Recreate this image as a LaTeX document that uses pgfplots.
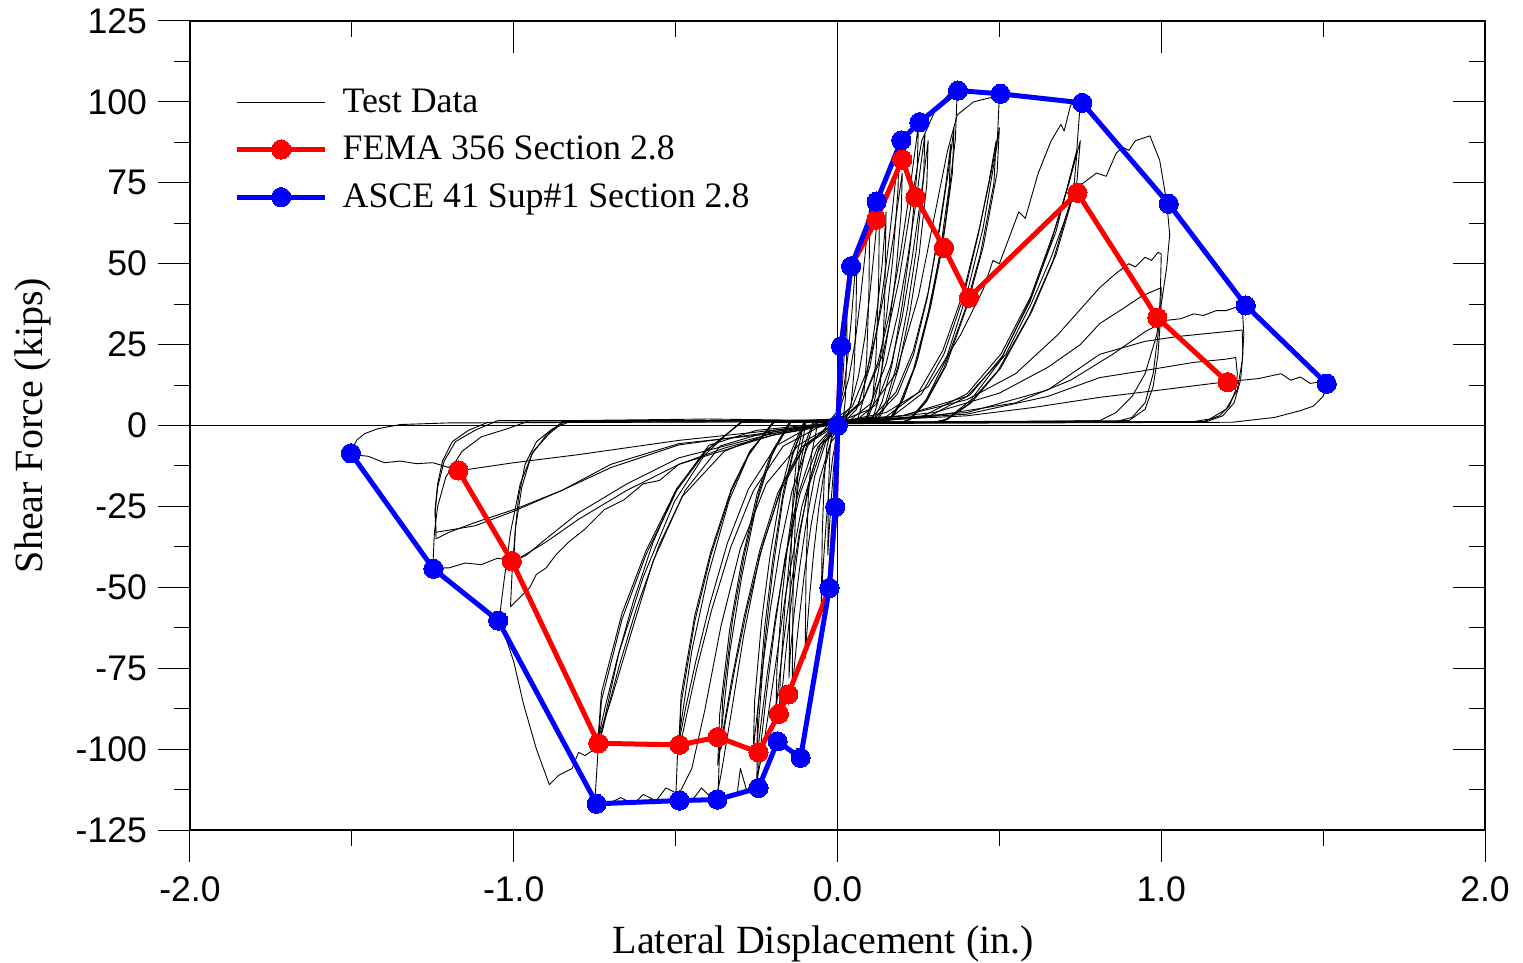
\documentclass[border=0pt]{standalone}
\usepackage{pgfplots}
\pgfplotsset{compat=1.18}
\usepackage{fontspec}
\setmainfont{Liberation Serif}
\newfontfamily\arialfont{Liberation Sans}
\pgfplotsset{td/.style={black, line width=0.45pt, line join=round, mark=none},
             tdf/.style={td, forget plot}}
\begin{document}
\begin{tikzpicture}
\begin{axis}[
  name=ax,
  scale only axis, width=647.5pt, height=404.5pt,
  xmin=-2, xmax=2, ymin=-125, ymax=125,
  xtick={-2,-1,0,1,2}, xticklabels={-2.0,-1.0,0.0,1.0,2.0},
  minor xtick={-1.5,-0.5,0.5,1.5},
  ytick={-125,-100,-75,-50,-25,0,25,50,75,100,125},
  yticklabels={-125,-100,-75,-50,-25,0,25,50,75,100,125},
  minor ytick={-112.5,-87.5,-62.5,-37.5,-12.5,12.5,37.5,62.5,87.5,112.5},
  xtick pos=left, ytick pos=left,
  tick align=outside,
  major tick length=16pt, minor tick length=8pt,
  tick style={black, line width=0.5pt},
  axis line style={line width=0.6pt},
  /pgf/number format/assume math mode=true,
  ticklabel style={font=\arialfont\fontsize{17.8}{20}\selectfont},
  yticklabel style={xshift=-2pt},
  xticklabel style={yshift=-4pt},
  xlabel={Lateral Displacement (in.)},
  ylabel={Shear Force (kips)},
  label style={font=\fontsize{20}{24}\selectfont},
  xlabel style={at={(axis description cs:0.489,0)}, anchor=base, yshift=-61.5pt},
  ylabel style={at={(axis description cs:-0.1215,0.5)}, anchor=center},
  legend style={at={(axis description cs:0.0345,0.921)}, anchor=north west,
    draw=none, fill=none, inner sep=0pt, outer sep=0pt,
    font=\fontsize{17.9}{21}\selectfont, row sep=6.4pt, column sep=5.5pt,
    nodes={inner sep=2pt}},
  legend cell align=left,
  legend image code/.code={\draw[#1, mark repeat=2, mark phase=2] plot coordinates {(0pt,0pt) (22pt,0pt) (44pt,0pt)};},
]
% zero lines
\addplot[black, line width=0.5pt, forget plot] coordinates {(-2,0) (2,0)};
\addplot[black, line width=0.5pt, forget plot] coordinates {(0,-125) (0,125)};

% ---------------- Test data (hysteresis loops) ----------------
\addplot[td] coordinates {(0,1) (0.008,6) (0.016,14) (0.022,24) (0.027,33) (0.03,40) (0.028,20) (0.024,8) (0.018,2) (0.012,1) (-0.002,-4) (-0.012,-13) (-0.02,-24) (-0.026,-33) (-0.03,-40) (-0.028,-20) (-0.023,-7) (-0.017,-1.5) (-0.01,1.2) (0,1)};
\addlegendentry{Test Data}
\addplot[tdf] coordinates {(0,1) (0.004,4.5) (0.02,12) (0.032,21.4) (0.042,32) (0.050,42) (0.056,50) (0.06,55) (0.057,33) (0.051,16.5) (0.042,6.6) (0.031,3.2) (0.024,1.5) (-0.001,-2.5) (-0.015,-10) (-0.026,-19.4) (-0.035,-30) (-0.042,-40) (-0.047,-48) (-0.05,-55) (-0.047,-33) (-0.041,-16.5) (-0.033,-6.6) (-0.022,-2.2) (-0.015,1.5) (0,1.5)};
\addplot[tdf] coordinates {(-0.03,1) (0.009,5.3) (0.035,14.6) (0.055,26.2) (0.071,39.4) (0.084,51.7) (0.094,61.5) (0.10,68) (0.097,40.8) (0.09,20.4) (0.08,8.2) (0.068,3.7) (0.06,1.5) (0.02,1) (-0.016,-3.5) (-0.04,-13.4) (-0.058,-25.6) (-0.074,-39.7) (-0.086,-52.6) (-0.094,-63.1) (-0.10,-72) (-0.097,-43.2) (-0.09,-21.6) (-0.08,-8.6) (-0.068,-2.9) (-0.06,1.5) (0,1.8)};
\addplot[tdf] coordinates {(0,1) (0.039,5.5) (0.065,15.4) (0.085,27.6) (0.101,41.7) (0.114,54.6) (0.124,65.1) (0.13,72) (0.127,43.2) (0.119,21.6) (0.109,8.6) (0.096,3.9) (0.087,1.5) (0.03,1) (-0.021,-5.2) (-0.055,-16.4) (-0.081,-30.3) (-0.103,-46.3) (-0.12,-61.1) (-0.132,-73) (-0.14,-82) (-0.137,-49.2) (-0.129,-24.6) (-0.118,-9.8) (-0.105,-3.3) (-0.096,1.5) (0,1.2)};
\addplot[tdf] coordinates {(0.02,1) (0.059,5) (0.087,14) (0.107,25) (0.125,38) (0.138,50) (0.146,60) (0.15,66) (0.146,40) (0.139,20) (0.127,8) (0.113,3.5) (0.104,1.5) (0.01,1) (-0.036,-5) (-0.07,-15.6) (-0.095,-29) (-0.117,-44) (-0.134,-58) (-0.145,-69.4) (-0.15,-78) (-0.146,-47) (-0.138,-23) (-0.126,-9.4) (-0.112,-3) (-0.104,1.5) (0,1.5)};
% A4
\addplot[tdf] coordinates {(0.01,1) (0.064,6.4) (0.10,18.2) (0.127,32.8) (0.150,49.6) (0.168,65.1) (0.181,77.5) (0.19,86) (0.187,73.1) (0.171,51.6) (0.152,34.4) (0.127,17.2) (0.105,6.9) (0.086,1.7) (0.076,1) (0,1) (-0.054,-5.8) (-0.09,-18.4) (-0.117,-34) (-0.140,-52) (-0.158,-68.5) (-0.171,-81.9) (-0.18,-92) (-0.177,-78.2) (-0.162,-55.2) (-0.144,-36.8) (-0.121,-18.4) (-0.099,-7.4) (-0.081,-1.8) (-0.072,1) (0,2)};
% A5
\addplot[tdf] coordinates {(-0.02,1) (0.046,5.9) (0.09,16.6) (0.123,29.9) (0.152,45.1) (0.174,59.1) (0.189,70.4) (0.20,78) (0.197,66.3) (0.18,46.8) (0.16,31.2) (0.134,15.6) (0.11,6.2) (0.09,1.6) (0.08,1) (0.02,1) (-0.043,-5.5) (-0.085,-17.6) (-0.117,-32.6) (-0.144,-49.7) (-0.165,-65.6) (-0.18,-78.3) (-0.19,-88) (-0.187,-74.8) (-0.171,-52.8) (-0.152,-35.2) (-0.127,-17.6) (-0.105,-7) (-0.086,-1.8) (-0.076,1) (0,1)};
% A6
\addplot[tdf] coordinates {(0,1) (0.075,6.9) (0.125,19.6) (0.163,35.4) (0.195,53.5) (0.22,70.3) (0.238,83.8) (0.25,93) (0.246,79) (0.225,55.8) (0.2,37.2) (0.168,18.6) (0.138,7.4) (0.113,1.9) (0.10,1) (0,1) (-0.075,-7.1) (-0.125,-22.4) (-0.163,-41.4) (-0.195,-63.3) (-0.22,-83.4) (-0.238,-99.7) (-0.25,-112) (-0.246,-95.2) (-0.225,-67.2) (-0.2,-44.8) (-0.168,-22.4) (-0.138,-9) (-0.113,-2.2) (-0.10,1) (0,2.2)};
% A7
\addplot[tdf] coordinates {(0.03,1) (0.102,6.7) (0.15,19) (0.186,34.3) (0.217,51.9) (0.241,68) (0.258,81.1) (0.27,90) (0.266,76.5) (0.243,54) (0.216,36) (0.181,18) (0.149,7.2) (0.122,1.8) (0.108,1) (0.02,1) (-0.061,-6.6) (-0.115,-20.8) (-0.156,-38.5) (-0.191,-58.8) (-0.218,-77.5) (-0.237,-92.6) (-0.25,-104) (-0.246,-88.4) (-0.225,-62.4) (-0.2,-41.6) (-0.168,-20.8) (-0.138,-8.3) (-0.113,-2.1) (-0.10,1) (0,1.5)};
% A8
\addplot[tdf] coordinates {(0.05,1) (0.119,6.5) (0.165,18.6) (0.20,33.6) (0.229,50.7) (0.252,66.6) (0.269,79.3) (0.28,88) (0.276,74.8) (0.252,52.8) (0.224,35.2) (0.188,17.6) (0.154,7) (0.126,1.8) (0.112,1) (-0.02,1) (-0.092,-6.3) (-0.14,-20) (-0.176,-37) (-0.207,-56.5) (-0.231,-74.5) (-0.248,-89) (-0.26,-100) (-0.256,-85) (-0.234,-60) (-0.208,-40) (-0.174,-20) (-0.143,-8) (-0.117,-2) (-0.104,1) (0,1)};
% A9
\addplot[tdf] coordinates {(0,1) (0.08,8) (0.14,22) (0.19,45) (0.23,70) (0.26,88) (0.30,97) (0.34,102) (0.37,104) (0.364,88.4) (0.333,62.4) (0.296,41.6) (0.248,20.8) (0.204,8.3) (0.167,2.1) (0.148,1) (0,1) (-0.06,-8) (-0.11,-25) (-0.16,-52) (-0.2,-80) (-0.23,-100) (-0.25,-110) (-0.28,-113) (-0.30,-106) (-0.31,-114) (-0.34,-115) (-0.37,-117) (-0.364,-99.5) (-0.333,-70.2) (-0.296,-46.8) (-0.248,-23.4) (-0.204,-9.4) (-0.167,-2.3) (-0.148,1) (0,2)};
% A10
\addplot[tdf] coordinates {(0,1) (0.108,2.7) (0.18,10.2) (0.234,23.1) (0.281,41.5) (0.317,61.7) (0.342,78.3) (0.36,92) (0.355,78.2) (0.324,55.2) (0.288,36.8) (0.241,18.4) (0.198,7.4) (0.162,1.8) (0.144,1) (0,1) (-0.111,-6.6) (-0.185,-21) (-0.241,-38.9) (-0.289,-59.3) (-0.326,-78.2) (-0.352,-93.5) (-0.37,-105) (-0.364,-89.3) (-0.333,-63) (-0.296,-42) (-0.248,-21) (-0.204,-8.4) (-0.167,-2.1) (-0.148,1) (0,1.5)};
% A11
\addplot[tdf] coordinates {(0.02,1) (0.119,2.7) (0.185,9.7) (0.235,21.9) (0.277,39.3) (0.31,58.4) (0.334,74.1) (0.35,87) (0.345,74) (0.315,52.2) (0.28,34.8) (0.235,17.4) (0.193,7) (0.158,1.7) (0.14,1) (0.01,1) (-0.101,-6.3) (-0.175,-20) (-0.231,-37) (-0.279,-56.5) (-0.316,-74.5) (-0.342,-89) (-0.36,-100) (-0.355,-85) (-0.324,-60) (-0.288,-40) (-0.241,-20) (-0.198,-8) (-0.162,-2) (-0.144,1) (0,1.2)};
% A12
\addplot[tdf] coordinates {(0,1) (0.1,5) (0.18,16) (0.25,40) (0.3,65) (0.34,85) (0.37,96) (0.42,100) (0.46,101) (0.5,102) (0.493,86.7) (0.45,61.2) (0.40,40.8) (0.335,20.4) (0.275,8.2) (0.225,2) (0.20,1) (0,1.2) (-0.1,-6) (-0.17,-18) (-0.24,-40) (-0.29,-65) (-0.33,-90) (-0.36,-108) (-0.37,-113) (-0.40,-114) (-0.42,-112) (-0.45,-116) (-0.48,-114) (-0.5,-116) (-0.493,-98.6) (-0.45,-69.6) (-0.40,-46.4) (-0.335,-23.2) (-0.275,-9.3) (-0.225,-2.3) (-0.20,1) (0,1.8)};
% A13
\addplot[tdf] coordinates {(0,1) (0.15,2.7) (0.25,10.2) (0.325,23.1) (0.39,41.5) (0.44,61.7) (0.475,78.3) (0.5,92) (0.493,78.2) (0.45,55.2) (0.40,36.8) (0.335,18.4) (0.275,7.4) (0.225,1.8) (0.20,1) (-0.03,1) (-0.168,-6.4) (-0.26,-20.2) (-0.329,-37.4) (-0.389,-57.1) (-0.435,-75.2) (-0.467,-89.9) (-0.49,-101) (-0.483,-85.9) (-0.441,-60.6) (-0.392,-40.4) (-0.328,-20.2) (-0.27,-8.1) (-0.22,-2) (-0.196,1) (0,1.5)};
% A14
\addplot[tdf] coordinates {(0.03,1) (0.168,2.7) (0.26,9.8) (0.329,22.1) (0.389,39.7) (0.435,59.1) (0.467,74.9) (0.49,88) (0.483,74.8) (0.441,52.8) (0.392,35.2) (0.328,17.6) (0.27,7) (0.22,1.8) (0.196,1) (-0.06,1) (-0.189,-6.2) (-0.275,-19.6) (-0.34,-36.3) (-0.395,-55.4) (-0.438,-73) (-0.469,-87.2) (-0.49,-98) (-0.483,-83.3) (-0.441,-58.8) (-0.392,-39.2) (-0.328,-19.6) (-0.27,-7.8) (-0.22,-2) (-0.196,1) (0,1.2)};
% A15
\addplot[tdf] coordinates {(0,1) (0.15,4) (0.28,12) (0.38,28) (0.45,42) (0.48,51) (0.5,50) (0.53,58) (0.56,66) (0.58,64) (0.62,78) (0.66,88) (0.69,93) (0.70,91) (0.72,99) (0.75,100) (0.739,85) (0.675,60) (0.60,40) (0.503,20) (0.413,8) (0.338,2) (0.30,1) (0,1) (-0.12,-6) (-0.22,-18) (-0.3,-38) (-0.36,-62) (-0.41,-88) (-0.45,-106) (-0.49,-114) (-0.53,-112) (-0.56,-116) (-0.6,-114) (-0.63,-117) (-0.67,-115) (-0.71,-117) (-0.75,-117) (-0.739,-99.5) (-0.675,-70.2) (-0.60,-46.8) (-0.503,-23.4) (-0.413,-9.4) (-0.338,-2.3) (-0.30,1) (0,2)};
% A16
\addplot[tdf] coordinates {(0.05,1) (0.26,2.7) (0.40,9.8) (0.505,22.1) (0.596,39.7) (0.666,59.1) (0.715,74.9) (0.75,88) (0.739,74.8) (0.675,52.8) (0.60,35.2) (0.503,17.6) (0.413,7) (0.338,1.8) (0.30,1) (0,1) (-0.2,-1.5) (-0.362,-6.3) (-0.47,-20) (-0.551,-37) (-0.621,-56.5) (-0.675,-74.5) (-0.713,-89) (-0.74,-100) (-0.729,-85) (-0.666,-60) (-0.592,-40) (-0.496,-20) (-0.407,-8) (-0.333,-2) (-0.296,1) (0,1.5)};
% A17
\addplot[tdf] coordinates {(0.08,1) (0.278,2.6) (0.41,9.5) (0.509,21.4) (0.595,38.4) (0.661,57.1) (0.707,72.4) (0.74,85) (0.729,72.3) (0.666,51) (0.592,34) (0.496,17) (0.407,6.8) (0.333,1.7) (0.296,1) (0,1) (-0.25,-1.5) (-0.397,-6.1) (-0.495,-19.4) (-0.569,-35.9) (-0.632,-54.8) (-0.681,-72.3) (-0.716,-86.3) (-0.74,-97) (-0.729,-82.5) (-0.666,-58.2) (-0.592,-38.8) (-0.496,-19.4) (-0.407,-7.8) (-0.333,-1.9) (-0.296,1) (0,1)};
% B1
\addplot[tdf] coordinates {(0,1) (0.2,3) (0.4,9) (0.52,22) (0.6,38) (0.66,52) (0.7,63) (0.73,72) (0.76,75) (0.8,78) (0.83,77) (0.86,84) (0.88,86) (0.9,85) (0.92,88) (0.965,89.5) (0.995,82) (1.017,69) (1.026,59) (1.017,49) (0.986,28) (0.95,16) (0.91,9) (0.86,4) (0.81,1.5) (0.4,1) (0,1) (-0.2,-2) (-0.35,-8) (-0.48,-22) (-0.57,-42) (-0.64,-65) (-0.7,-85) (-0.75,-100) (-0.78,-102) (-0.8,-101) (-0.82,-106) (-0.86,-108) (-0.89,-111) (-0.93,-100) (-0.97,-86) (-1.0,-73) (-1.03,-64) (-1.045,-60) (-1.03,-48) (-1.01,-33) (-0.98,-18) (-0.94,-8) (-0.89,-2.5) (-0.84,1.5) (-0.4,2) (0,1.5)};
% B2
\addplot[tdf] coordinates {(0,1.5) (0.2,3) (0.4,8) (0.55,16) (0.68,28) (0.76,37) (0.81,42.6) (0.86,47) (0.9,50) (0.92,49) (0.95,52) (0.97,51) (0.99,53.5) (1.0,53) (0.997,40) (0.99,28) (0.975,16) (0.95,7) (0.91,2.5) (0.86,1.2) (0.4,1) (0,0.5) (-0.2,-3) (-0.35,-7) (-0.49,-12) (-0.55,-17) (-0.6,-18) (-0.66,-23) (-0.72,-26) (-0.78,-32) (-0.83,-36) (-0.87,-40) (-0.9,-44) (-0.93,-46) (-0.95,-50) (-0.99,-54) (-1.01,-56) (-1.005,-45) (-0.995,-32) (-0.975,-19) (-0.945,-9) (-0.9,-3) (-0.85,1.2) (0,1.5)};
% B3
\addplot[tdf] coordinates {(0,1) (0.3,4) (0.5,10) (0.65,18) (0.75,25) (0.81,31.5) (0.88,36) (0.94,40) (1.0,42.6) (0.997,32) (0.99,22) (0.975,12) (0.95,5) (0.9,1.5) (0,1) (-0.2,-2.5) (-0.49,-10) (-0.65,-18) (-0.8,-27) (-0.9,-35) (-0.96,-40) (-1.0,-42) (-0.995,-32) (-0.985,-22) (-0.965,-12) (-0.93,-5) (-0.88,-1) (-0.82,1.5) (0,1.5)};
% B4
\addplot[tdf] coordinates {(0,1) (0.3,3) (0.55,7) (0.72,14) (0.85,22) (0.95,29) (1.017,32.5) (1.06,33) (1.1,34.5) (1.13,34) (1.17,35.5) (1.2,35.5) (1.23,36.5) (1.25,37) (1.255,28) (1.25,20) (1.235,11) (1.2,5) (1.15,2) (1.1,1.2) (0.5,1) (0,1) (-0.2,-3) (-0.49,-12) (-0.65,-20) (-0.8,-29) (-0.9,-36) (-1.0,-42) (-1.05,-41) (-1.1,-43) (-1.15,-42.5) (-1.2,-44) (-1.25,-44) (-1.245,-33) (-1.235,-25) (-1.21,-16) (-1.16,-8) (-1.1,-3.5) (-1.02,-1) (-0.95,1.5) (0,1.5)};
% B5
\addplot[tdf] coordinates {(0,1) (0.4,4) (0.65,11) (0.81,22) (0.95,26) (1.05,27.5) (1.15,28.5) (1.25,29.5) (1.252,22) (1.245,14) (1.225,7) (1.19,3) (1.14,1.2) (0,1) (-0.2,-2) (-0.49,-6) (-0.7,-13) (-0.85,-20) (-1.0,-26) (-1.12,-30) (-1.2,-33) (-1.24,-35) (-1.243,-27) (-1.235,-19) (-1.215,-11) (-1.18,-5) (-1.12,-1.5) (-1.05,1.5) (0,1.5)};
% B6
\addplot[tdf] coordinates {(0,1) (0.4,3.5) (0.65,9) (0.81,14.8) (0.95,17) (1.1,19.5) (1.2,20.5) (1.23,21) (1.235,16) (1.23,11) (1.21,6) (1.18,3) (1.13,1.2) (0,0.8) (-0.2,-2.5) (-0.49,-5.6) (-0.7,-12) (-0.85,-20) (-1.0,-26.5) (-1.12,-31) (-1.24,-33) (-1.243,-26) (-1.235,-18) (-1.22,-11) (-1.19,-5) (-1.14,-1.5) (-1.08,1) (0,1.2)};
% B7
\addplot[tdf] coordinates {(0,1) (0.4,3) (0.6,5.5) (0.81,8.7) (1.0,11) (1.2,13.5) (1.3,14.5) (1.37,16) (1.4,14) (1.43,15) (1.46,13) (1.49,13.5) (1.51,13) (1.5,9) (1.47,6) (1.43,4.6) (1.35,2.5) (1.22,1) (0.6,0.8) (0,0.6) (-0.2,-1.5) (-0.49,-4.6) (-0.8,-9) (-1.0,-11.5) (-1.17,-14) (-1.2,-13) (-1.25,-11.5) (-1.3,-11.8) (-1.35,-11) (-1.4,-11.5) (-1.45,-9.5) (-1.5,-9) (-1.495,-6.5) (-1.485,-4.5) (-1.46,-2.5) (-1.42,-1) (-1.35,0.3) (-1.2,0.8) (0,1.2)};

% ---------------- FEMA 356 ----------------
\addplot[red, line width=2.5pt, mark=*, mark size=4.8pt, mark options={solid, fill=red, draw=red, line width=0pt}] coordinates {
(-1.171,-13.9) (-1.006,-41.9) (-0.739,-98.2) (-0.488,-98.7) (-0.370,-96.3) (-0.244,-101) (-0.181,-89.1) (-0.152,-83.1) (-0.025,-50.2) (-0.007,-25.2) (0.001,0) (0.011,24.5) (0.042,49.2) (0.120,63.6) (0.200,82.2) (0.241,70.6) (0.329,54.9) (0.406,39.5) (0.741,71.9) (0.988,33.3) (1.205,13.4)};
\addlegendentry{FEMA 356 Section 2.8}
% ---------------- ASCE 41 ----------------
\addplot[blue, line width=2.5pt, mark=*, mark size=4.8pt, mark options={solid, fill=blue, draw=blue, line width=0pt}] coordinates {
(-1.503,-8.6) (-1.248,-44.3) (-1.048,-60.3) (-0.744,-116.9) (-0.488,-115.9) (-0.371,-115.6) (-0.244,-112) (-0.185,-97.6) (-0.114,-102.7) (-0.025,-50.2) (-0.007,-25.2) (0.001,0) (0.011,24.5) (0.042,49.2) (0.121,69.2) (0.197,88.1) (0.253,93.7) (0.372,103.5) (0.503,102.5) (0.756,99.7) (1.023,68.5) (1.261,37.1) (1.511,12.9)};
\addlegendentry{ASCE 41 Sup\#1 Section 2.8}
\end{axis}
\begin{axis}[
  scale only axis, width=647.5pt, height=404.5pt,
  xmin=-2, xmax=2, ymin=-125, ymax=125,
  xtick={-2,-1,0,1,2}, minor xtick={-1.5,-0.5,0.5,1.5},
  ytick={-125,-100,-75,-50,-25,0,25,50,75,100,125},
  minor ytick={-112.5,-87.5,-62.5,-37.5,-12.5,12.5,37.5,62.5,87.5,112.5},
  xtick pos=right, ytick pos=right,
  tick align=inside,
  major tick length=16pt, minor tick length=8pt,
  tick style={black, line width=0.5pt},
  axis line style={line width=0.6pt},
  xticklabels={}, yticklabels={},
]
\addplot[draw=none] coordinates {(0,0)};
\end{axis}
\pgfresetboundingbox
\path[use as bounding box] ([shift={(-95pt,-66pt)}]ax.south west) rectangle ([shift={(19pt,10.5pt)}]ax.north east);
\end{tikzpicture}
\end{document}
